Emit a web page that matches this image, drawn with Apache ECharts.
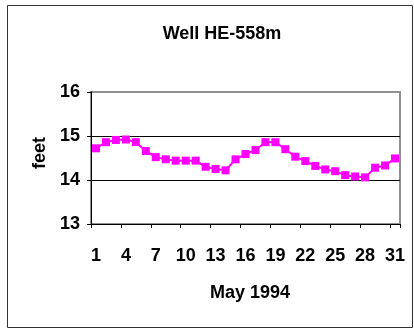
<!DOCTYPE html>
<html>
<head>
<meta charset="utf-8">
<script src="https://cdn.jsdelivr.net/npm/echarts@6/dist/echarts.min.js"></script>
<style>
html,body{margin:0;padding:0;background:#fff;}
#chart{width:414px;height:329px;}
</style>
</head>
<body>
<div id="chart"></div>
<script>
const chartTitle = 'Well HE-558m';
const xAxisName = 'May 1994';
const yAxisName = 'feet';
const days = ['1','2','3','4','5','6','7','8','9','10','11','12','13','14','15','16','17','18','19','20','21','22','23','24','25','26','27','28','29','30','31'];
const levels = [14.72,14.86,14.91,14.92,14.86,14.66,14.52,14.47,14.44,14.44,14.44,14.30,14.25,14.22,14.47,14.59,14.68,14.86,14.86,14.70,14.53,14.43,14.32,14.24,14.20,14.11,14.08,14.06,14.28,14.33,14.49];
const yMin = 13, yMax = 16, yStep = 1;

const font = '"Liberation Sans", Arial, sans-serif';
const chart = echarts.init(document.getElementById('chart'), null, {renderer: 'canvas'});
chart.setOption({
  animation: false,
  backgroundColor: '#fff',
  graphic: [
    {type: 'rect', shape: {x: 7.5, y: 5.5, width: 405, height: 322}, style: {fill: 'none', stroke: '#333', lineWidth: 1}, z: 0},
    {type: 'text', x: 222, y: 34, style: {text: chartTitle, font: 'bold 18px ' + font, fill: '#000', textAlign: 'center', textVerticalAlign: 'middle'}}
  ],
  grid: {left: 91, right: 14, top: 92, bottom: 105, show: true, borderColor: '#909090', borderWidth: 2, backgroundColor: 'transparent'},
  xAxis: {
    type: 'category',
    data: days,
    boundaryGap: true,
    name: xAxisName,
    nameLocation: 'middle',
    nameGap: 60,
    nameTextStyle: {fontFamily: font, fontWeight: 'bold', fontSize: 18, color: '#000', padding: [0, 0, 0, 9]},
    axisLine: {lineStyle: {color: '#000', width: 1}},
    axisTick: {show: true, interval: 2, length: 4, lineStyle: {color: '#000'}},
    axisLabel: {interval: 2, margin: 23, fontFamily: font, fontWeight: 'bold', fontSize: 18, color: '#000'},
    splitLine: {show: false}
  },
  yAxis: {
    type: 'value',
    min: yMin, max: yMax, interval: yStep,
    name: yAxisName,
    nameLocation: 'middle',
    nameGap: 40,
    nameRotate: 90,
    nameTextStyle: {fontFamily: font, fontWeight: 'bold', fontSize: 18, color: '#000', padding: [0, 0, 0, 10]},
    axisLine: {show: true, lineStyle: {color: '#000', width: 1}},
    axisTick: {show: true, length: 4, lineStyle: {color: '#000'}},
    axisLabel: {margin: 11, fontFamily: font, fontWeight: 'bold', fontSize: 18, color: '#000'},
    splitLine: {show: true, showMinLine: false, showMaxLine: false, lineStyle: {color: '#000', width: 1}}
  },
  series: [{
    type: 'line',
    data: levels,
    symbol: 'rect',
    symbolSize: 8,
    showSymbol: true,
    showAllSymbol: true,
    smooth: false,
    lineStyle: {color: '#FF00FF', width: 2},
    itemStyle: {color: '#FF00FF'},
    z: 5
  }]
});
</script>
</body>
</html>
